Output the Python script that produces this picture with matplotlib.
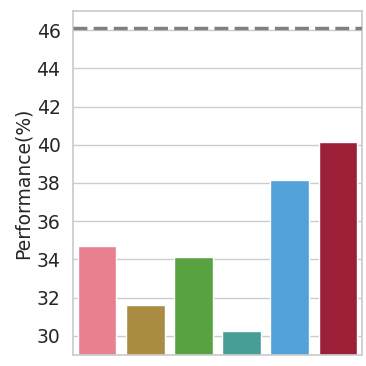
import numpy as np
import matplotlib
matplotlib.use("Agg")
import matplotlib.pyplot as plt
import seaborn as sns

# values
methods = ["A", "B", "C", "D", "E", "F"]
scores = [34.7, 31.6, 34.15, 30.25, 38.15, 40.15]
colors = ["#e8808f", "#aa8c42", "#58a241", "#469e96", "#53a1d9", "#9b1f37"]
ref_score = 46.1
y_ticks = [30, 32, 34, 36, 38, 40, 42, 44, 46]

sns.set_theme(style="whitegrid")

fig = plt.figure(figsize=(3.66, 3.66), dpi=100)
ax = fig.add_axes([73 / 366, 11 / 366, 289 / 366, 344 / 366])
sns.barplot(x=methods, y=scores, hue=methods, palette=colors, legend=False,
            ax=ax, width=0.8, saturation=1)
ax.axhline(ref_score, color="gray", ls="--", lw=2.5, dashes=(4, 1.8), zorder=5)

ax.set_ylim(29, 47)
ax.set_yticks(y_ticks)
ax.set_xticks([])
ax.xaxis.grid(False)
ax.tick_params(axis="y", labelsize=13.5, pad=3)
ax.set_ylabel("Performance(%)", fontsize=13.5, labelpad=3)
ax.set_xlabel("")

fig.savefig("out.png", dpi=100)
plt.close(fig)
